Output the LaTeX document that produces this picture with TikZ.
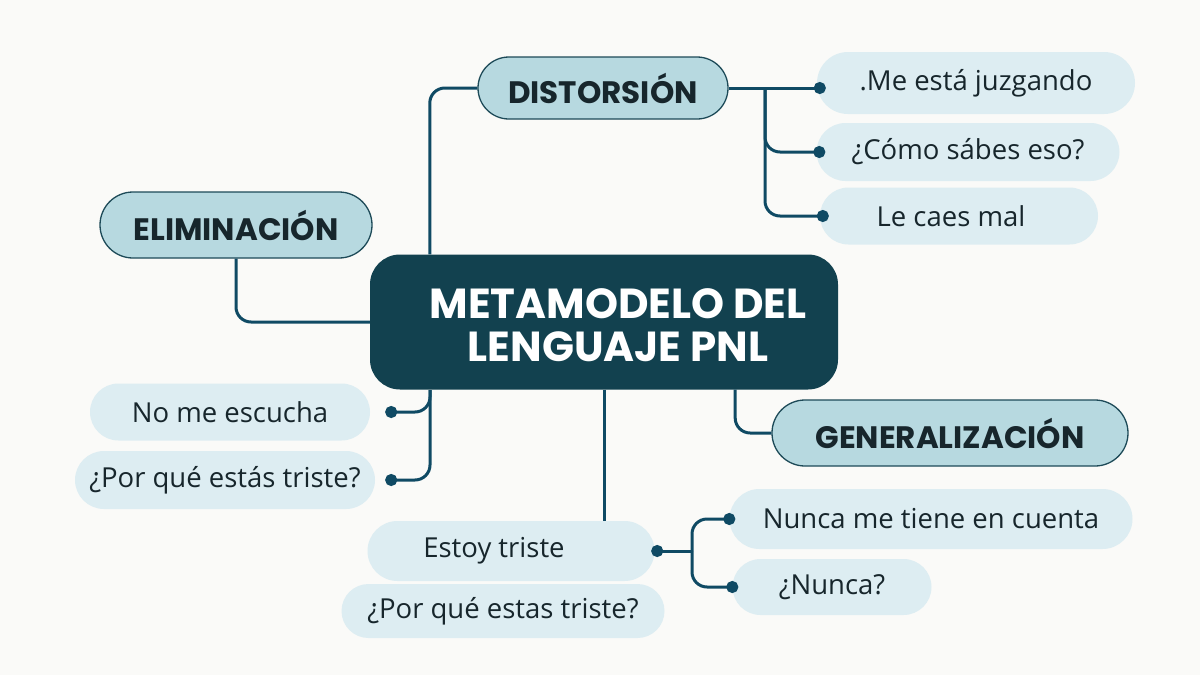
\documentclass[tikz,border=0pt]{standalone}
\usepackage{fontspec}
\setmainfont{Open Sans}
\newfontfamily\headfont{Poppins}
\usetikzlibrary{arrows.meta}
\definecolor{bgc}{HTML}{FAFAF8}
\definecolor{darkc}{HTML}{12414F}
\definecolor{linec}{HTML}{0F4A64}
\definecolor{catfill}{HTML}{B7D9E0}
\definecolor{catdraw}{HTML}{1D4A58}
\definecolor{leaffill}{HTML}{DDEDF2}
\definecolor{txtc}{HTML}{17262C}
\tikzset{
  mainbox/.style={fill=darkc, rounded corners=30pt, minimum width=468pt, minimum height=135pt, inner sep=0pt},
  cat/.style={fill=catfill, draw=catdraw, line width=1.3pt, rounded corners=#1, minimum height=2*#1, inner sep=0pt,
     font=\headfont\bfseries\fontsize{31}{34}\selectfont, text=txtc},
  leaf/.style={fill=leaffill, rounded corners=#1, minimum height=2*#1, inner sep=0pt,
     font=\fontsize{27.5}{30}\selectfont, text=txtc},
  conn/.style={draw=linec, line width=3pt, rounded corners=15pt},
  dotend/.style={-{Circle[length=12pt,width=12pt]}},
  dotstart/.style={{Circle[length=12pt,width=12pt]}-}
}
\begin{document}
\begin{tikzpicture}[x=1pt,y=-1pt]
\fill[bgc] (0,0) rectangle (1200,675);
\useasboundingbox (0,0) rectangle (1200,675);
% central
\node[mainbox] (center) at (604,322) {};
\node[text=white, font=\headfont\bfseries\fontsize{42}{43}\selectfont, align=center, inner sep=0pt] (ctext) at (618,325) {METAMODELO DEL\\LENGUAJE PNL};
% categories
\node[cat=31pt, minimum width=250pt] (dist) at (603,88) {DISTORSIÓN};
\node[cat=33pt, minimum width=272pt] (elim) at (236,225) {ELIMINACIÓN};
\node[cat=33pt, minimum width=356pt] (gen) at (950,433) {GENERALIZACIÓN};
% leaves
\node[leaf=31pt, minimum width=318pt] (mej) at (976,83) {.Me está juzgando};
\node[leaf=29pt, minimum width=303pt] (como) at (968,152) {¿Cómo sábes eso?};
\node[leaf=28.5pt, minimum width=278pt] (caes) at (959,216) {Le caes mal\hspace*{16pt}};
\node[leaf=28.5pt, minimum width=280pt] (noesc) at (230,412) {No me escucha};
\node[leaf=29pt, minimum width=300pt] (porq1) at (225,480) {¿Por qué estás triste?};
\node[leaf=30pt, minimum width=287pt] (estoy) at (511,551) {Estoy triste\hspace*{34pt}};
\node[leaf=27pt, minimum width=323pt] (porq2) at (503,611) {¿Por qué estas triste?};
\node[leaf=30pt, minimum width=403pt] (nunca1) at (931,519) {Nunca me tiene en cuenta};
\node[leaf=28pt, minimum width=199pt] (nunca2) at (832,587) {¿Nunca?};
% junction coordinates
\coordinate (dj) at (765,88);
\coordinate (bl) at (430,390);
\coordinate (ej) at (692,551);
% connectors
\draw[conn] ([xshift=60pt]center.north west) |- (dist.west);
\draw[conn, dotend] (dist.east) -- ([xshift=9pt]dist.east -| mej.west);
\draw[conn, dotend] (dj) |- ([xshift=9pt]como.west);
\draw[conn, dotend] (dj) |- ([xshift=9pt]caes.west);
\draw[conn] (elim.south) |- (center.west);
\draw[conn, dotend] (bl) |- ([xshift=15pt]noesc.east);
\draw[conn, dotend] (bl) |- ([xshift=10pt]porq1.east);
\draw[conn] (center.south) -- (center.south |- estoy.north);
\draw[conn] ([xshift=-103pt]center.south east) |- (gen.west);
\draw[conn, dotstart] ([xshift=-3.5pt]estoy.east) -- (ej);
\draw[conn, dotend] (ej) |- ([xshift=6pt]nunca1.west);
\draw[conn, dotend] (ej) |- ([xshift=6pt]nunca2.west);
\end{tikzpicture}
\end{document}
